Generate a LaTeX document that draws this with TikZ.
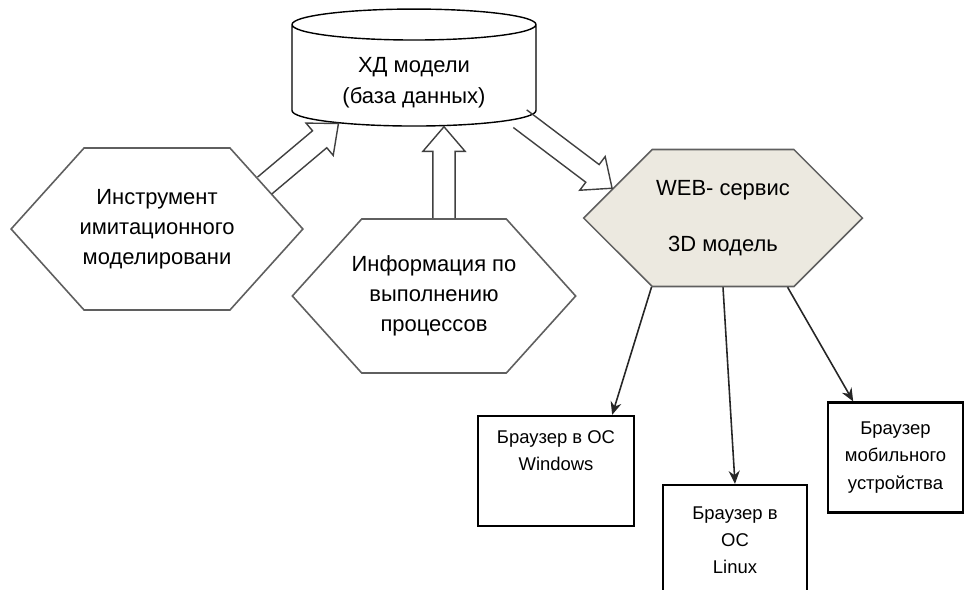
\documentclass[tikz,border=0pt]{standalone}
\usepackage{fontspec}
\setmainfont{Liberation Sans}
\usetikzlibrary{shapes.geometric,shapes.symbols,arrows.meta,positioning,calc}
\definecolor{hxgris}{RGB}{95,95,95}
\definecolor{hxbeige}{RGB}{236,233,224}

% hollow block arrow from #1 to #2
\newcommand\blockarrow[2]{%
  \draw[blk] let \p1=($(#2)-(#1)$), \n1={atan2(\y1,\x1)}, \n2={veclen(\x1,\y1)} in
    [shift={(#1)}, rotate=\n1]
    (0pt,-6.3pt) -- ({\n2*1pt-14pt},-6.3pt) -- ({\n2*1pt-14pt},-12pt) -- ({\n2*1pt},0pt)
    -- ({\n2*1pt-14pt},12pt) -- ({\n2*1pt-14pt},6.3pt) -- (0pt,6.3pt);}

\begin{document}
\begin{tikzpicture}[x=0.02cm, y=-0.02cm,
  hexa/.style={signal, signal to=west and east, signal pointer angle=96,
    draw=hxgris, line width=0.9pt, fill=white, align=center,
    font=\fontsize{12.5}{17}\selectfont},
  dbcyl/.style={cylinder, shape border rotate=90, aspect=0.2, draw=black,
    line width=0.8pt, align=center, minimum width=4.88cm, minimum height=2.34cm,
    font=\fontsize{12.5}{17}\selectfont},
  brw/.style={rectangle, draw=black, line width=1.3pt, align=center,
    minimum height=2.2cm, font=\fontsize{10.5}{15.4}\selectfont},
  blk/.style={draw=black!75, line width=0.8pt},
  thin/.style={-{Stealth[length=2.6mm, width=2.2mm]}, draw=black!85, line width=0.9pt}
]
  \useasboundingbox (0,0) rectangle (973,589);

  % database
  \node[dbcyl] (db) at (414,78) {\mbox{}\\[-3pt]ХД модели\\[1pt](база данных)};

  % hexagons
  \node[hexa, inner xsep=-0.09cm, minimum height=3.24cm] (instr) at (157,229)
    {Инструмент\\имитационного\\моделировани};
  \node[hexa, inner xsep=-0.2cm, minimum height=3.08cm] (info) at (434,296)
    {Информация по\\выполнению\\процессов};
  \node[hexa, signal pointer angle=90, fill=hxbeige, inner xsep=0.08cm,
    minimum height=2.74cm] (web) at (723,218) {WEB- сервис\\[15pt]3D модель};

  % browsers
  \node[brw, minimum width=3.12cm] (win) at (556,471) {Браузер в ОС\\Windows\\[8pt]\mbox{}};
  \node[brw, minimum width=2.88cm] (lin) at (735,540) {Браузер в\\ОС\\Linux};
  \node[brw, minimum width=2.7cm] (mob) at (895.5,457.5)
    {Браузер\\мобильного\\устройства};

  % block arrows
  \blockarrow{instr.22}{db.211}
  \coordinate (infotop) at ($(info.north)+(10,0)$);
  \blockarrow{infotop}{infotop |- db.south}
  \blockarrow{db.339}{web.165}

  % thin arrows
  \draw[thin] (web.224) -- (win.45);
  \draw[thin] (web.south) -- (lin.north);
  \draw[thin] (web.313) -- (mob.127);
\end{tikzpicture}
\end{document}
